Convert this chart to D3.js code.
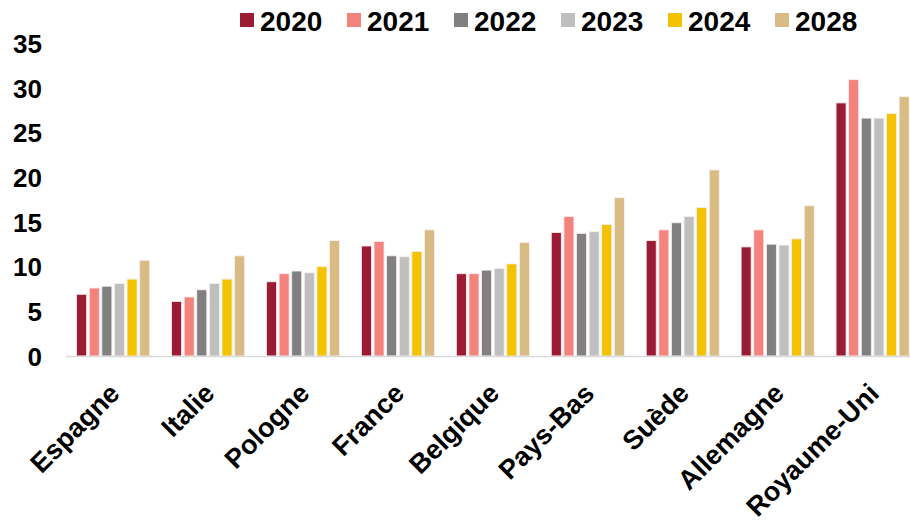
<!DOCTYPE html>
<html>
<head>
<meta charset="utf-8">
<script src="https://cdn.jsdelivr.net/npm/d3@7"></script>
<style>
  body { margin: 0; background: #fff; }
  text { font-family: "Liberation Sans", Arial, sans-serif; font-weight: bold; fill: #000; }
</style>
</head>
<body>
<svg id="chart"></svg>
<script>
// data
const countries = ["Espagne", "Italie", "Pologne", "France", "Belgique", "Pays-Bas", "Suède", "Allemagne", "Royaume-Uni"];
const years = ["2020", "2021", "2022", "2023", "2024", "2028"];
const v2020 = [6.9, 6.1, 8.3, 12.3, 9.2, 13.8, 12.9, 12.2, 28.3];
const v2021 = [7.6, 6.6, 9.2, 12.8, 9.2, 15.6, 14.1, 14.1, 30.9];
const v2022 = [7.8, 7.4, 9.5, 11.2, 9.6, 13.7, 14.9, 12.5, 26.6];
const v2023 = [8.1, 8.1, 9.3, 11.1, 9.8, 13.9, 15.6, 12.4, 26.6];
const v2024 = [8.6, 8.6, 10.0, 11.7, 10.3, 14.7, 16.6, 13.1, 27.1];
const v2028 = [10.7, 11.2, 12.9, 14.1, 12.7, 17.7, 20.8, 16.8, 29.0];
const yTicks = [0, 5, 10, 15, 20, 25, 30, 35];

const series = [v2020, v2021, v2022, v2023, v2024, v2028];
const colors = ["#9b1b34", "#f4837d", "#808080", "#bfbfbf", "#f5c200", "#d9bc84"];

const width = 910, height = 526;

const svg = d3.select("#chart")
  .attr("width", width)
  .attr("height", height);

// scales
const x0 = d3.scaleBand()
  .domain(countries)
  .range([65.7, 65.7 + 9 * 94.93])
  .paddingInner(0.23)
  .paddingOuter(0.115);

const x1 = d3.scaleBand()
  .domain(years)
  .range([0, x0.bandwidth()])
  .paddingInner(0.206);

const y = d3.scaleLinear()
  .domain([0, 35])
  .range([356, 43]);

const color = d3.scaleOrdinal().domain(years).range(colors);

// table built from the arrays
const rows = countries.map((c, i) => ({
  country: c,
  values: years.map((yr, j) => ({ year: yr, value: series[j][i] }))
}));

// bars
const groups = svg.append("g")
  .selectAll("g")
  .data(rows)
  .join("g")
  .attr("transform", d => `translate(${x0(d.country)},0)`);

groups.selectAll("rect")
  .data(d => d.values)
  .join("rect")
  .attr("x", d => x1(d.year))
  .attr("y", d => y(d.value))
  .attr("width", x1.bandwidth())
  .attr("height", d => y(0) - y(d.value))
  .attr("fill", d => color(d.year))
  .attr("stroke", "#fbeeee")
  .attr("stroke-width", 0.8);

// baseline
svg.append("line")
  .attr("x1", 66).attr("x2", 910)
  .attr("y1", y(0) + 0.5).attr("y2", y(0) + 0.5)
  .attr("stroke", "#d9d9d9")
  .attr("stroke-width", 1.5);

// y axis labels, no line
const yAxis = d3.axisLeft(y)
  .tickValues(yTicks)
  .tickSize(0)
  .tickPadding(0);

const yG = svg.append("g")
  .attr("transform", "translate(42,1)")
  .call(yAxis);
yG.select(".domain").remove();
yG.selectAll("text")
  .style("font-size", "26px")
  .style("font-family", "Liberation Sans, Arial, sans-serif")
  .style("font-weight", "bold")
  .attr("fill", "#000");

// x labels, rotated
svg.append("g")
  .selectAll("text")
  .data(countries)
  .join("text")
  .attr("transform", d => `translate(${x0(d) + x0.bandwidth() / 2 + 8},395) rotate(-45)`)
  .attr("text-anchor", "end")
  .style("font-size", "27px")
  .text(d => d);

// legend
const legend = svg.append("g")
  .selectAll("g")
  .data(years)
  .join("g")
  .attr("transform", (d, i) => `translate(${240 + i * 107},13)`);

legend.append("rect")
  .attr("width", 14)
  .attr("height", 14)
  .attr("fill", d => color(d));

legend.append("text")
  .attr("x", 20)
  .attr("y", 18)
  .style("font-size", "28px")
  .text(d => d);
</script>
</body>
</html>
